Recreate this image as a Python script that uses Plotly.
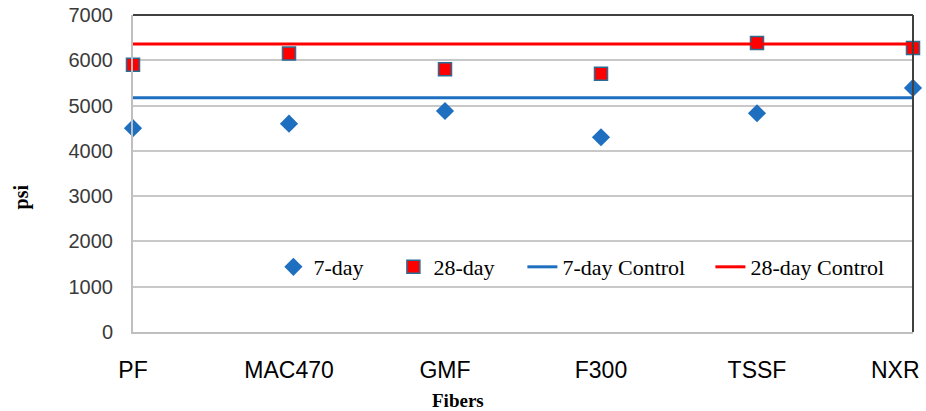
import plotly.graph_objects as go

fibers = ["PF", "MAC470", "GMF", "F300", "TSSF", "NXR"]
day7 = [4500, 4600, 4880, 4300, 4830, 5390]
day28 = [5900, 6150, 5800, 5700, 6380, 6270]
control7 = 5170
control28 = 6360
yticks = [0, 1000, 2000, 3000, 4000, 5000, 6000, 7000]

# last category label is drawn right-anchored so it stays inside the page
fiber_labels = fibers[:-1] + [""]

blue = "#1F6FC0"
red = "#FF0000"
serif = "Liberation Serif"

fig = go.Figure()
fig.add_trace(go.Scatter(
    x=fibers, y=day7, mode="markers", name="7-day", legendwidth=75,
    marker=dict(symbol="diamond", size=14, color=blue, line=dict(width=0)),
    cliponaxis=False))
fig.add_trace(go.Scatter(
    x=fibers, y=day28, mode="markers", name="28-day", legendwidth=84,
    marker=dict(symbol="square", size=13, color=red, line=dict(width=1.5, color="#2A6E96")),
    cliponaxis=False))
fig.add_trace(go.Scatter(
    x=fibers, y=[control7] * len(fibers), mode="lines", name="7-day Control",
    legendwidth=143, line=dict(color=blue, width=3)))
fig.add_trace(go.Scatter(
    x=fibers, y=[control28] * len(fibers), mode="lines", name="28-day Control",
    legendwidth=130, line=dict(color=red, width=3)))

fig.update_layout(
    width=926, height=411,
    margin=dict(l=133, r=13, t=15, b=79, autoexpand=False),
    paper_bgcolor="white", plot_bgcolor="white",
    legend=dict(orientation="h", x=0.18, y=0.205, xanchor="left", yanchor="middle",
                font=dict(family=serif, size=22, color="#000"),
                bgcolor="rgba(0,0,0,0)", itemwidth=30, tracegroupgap=0),
    showlegend=True,
    shapes=[
        dict(type="line", xref="paper", yref="paper", x0=0, x1=1, y0=1, y1=1,
             line=dict(color="#404040", width=2)),
        dict(type="line", xref="paper", yref="paper", x0=1, x1=1, y0=0, y1=1,
             line=dict(color="#404040", width=2)),
    ],
    annotations=[
        dict(text=fibers[-1], xref="x", yref="y", x=fibers[-1], y=yticks[0],
             xanchor="right", yanchor="middle", xshift=9, yshift=-38, showarrow=False,
             font=dict(family="Liberation Sans", size=23, color="#000")),
        dict(text="<b>Fibers</b>", xref="paper", yref="paper", x=0.417, y=-0.215,
             xanchor="center", yanchor="middle", showarrow=False,
             font=dict(family=serif, size=19, color="#000")),
        dict(text="<b>psi</b>", xref="paper", yref="paper", x=-0.143, y=0.426,
             xanchor="center", yanchor="middle", showarrow=False, textangle=-90,
             font=dict(family=serif, size=20, color="#000")),
    ],
)
fig.update_xaxes(
    type="category", range=[0, len(fibers) - 1], automargin=False,
    tickmode="array", tickvals=fibers, ticktext=fiber_labels,
    showgrid=False, showline=True, linecolor="#BFBFBF", linewidth=2,
    ticks="", ticklabelstandoff=16,
    tickfont=dict(family="Liberation Sans", size=23, color="#000"),
)
fig.update_yaxes(
    range=[0, 7000], tickvals=yticks, automargin=False,
    showgrid=True, gridcolor="#C8C8C8", gridwidth=1.5,
    showline=True, linecolor="#BFBFBF", linewidth=2,
    zeroline=False, ticks="", ticklabelstandoff=14,
    tickfont=dict(family="Liberation Sans", size=20, color="#3A3A3A"),
)

fig.write_html("out.html")
